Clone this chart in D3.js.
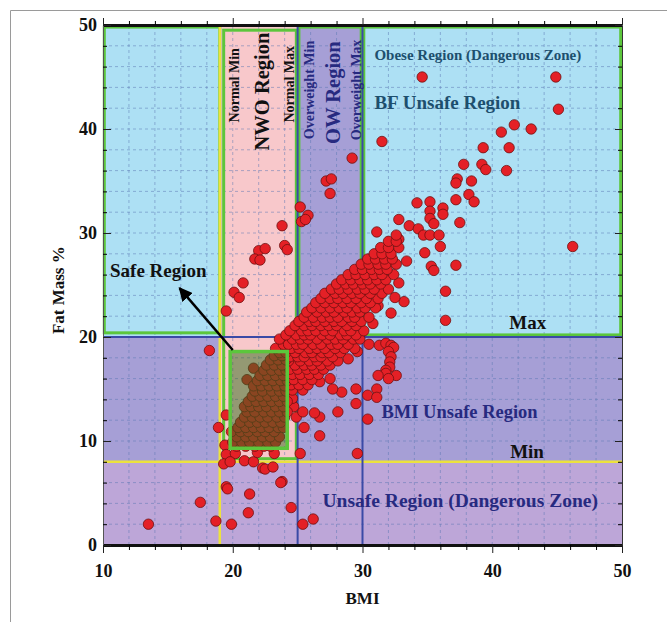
<!DOCTYPE html>
<html lang="en">
<head>
<meta charset="utf-8">
<title>BMI vs Fat Mass %</title>
<script src="https://cdn.jsdelivr.net/npm/d3@7"></script>
<style>
  body { margin: 0; background: #fff; }
  #chart text { font-family: "Liberation Serif", "Times New Roman", serif; font-weight: bold; }
</style>
</head>
<body>
<div id="chart"></div>
<script>
// axis ranges / ticks
var bmiDomain = [10, 50];
var fatDomain = [0, 50];
var majorX = [10, 20, 30, 40, 50];
var majorY = [0, 10, 20, 30, 40, 50];

// thresholds
var bmiCuts = [19, 25, 30];   // normal min, normal max / overweight min, overweight max
var fatCuts = [8, 20];        // min, max
var safeBox = [19.8, 24.2, 9.3, 18.6];   // bmi0, bmi1, fat0, fat1
var greenBoxes = [[10.1, 19.0, 20.4, 49.8], [19.3, 24.9, 8.3, 49.5], [25.1, 29.9, 20.2, 49.8], [30.1, 49.9, 20.2, 49.8]];

// scattered subjects [bmi, fat %]
var scatter = [
  [34.6,45.0],[44.9,45.0],[45.1,41.9],[40.7,39.7],[41.7,40.4],[43.0,40.0],[31.5,38.8],[39.3,38.2],[41.3,38.2],
  [29.2,37.2],[37.8,36.6],[39.2,36.6],[39.5,36.1],[41.1,36.0],[27.2,35.0],[27.6,35.2],[27.5,33.8],[37.3,35.2],
  [37.2,34.8],[38.4,35.0],[38.2,33.7],[37.2,33.2],[38.6,33.0],[34.2,32.9],[35.2,33.0],[36.2,32.4],[35.2,32.1],
  [36.2,31.8],[32.8,31.3],[35.2,31.4],[37.5,31.0],[33.6,30.7],[35.5,30.9],[34.3,30.4],[34.7,29.8],[35.2,29.8],
  [35.9,29.8],[46.2,28.7],[36.0,28.7],[32.8,29.4],[34.8,28.1],[37.2,26.9],[35.3,26.8],[35.5,26.4],[36.4,24.4],
  [36.4,21.6],[32.2,22.3],[33.2,23.4],[32.5,23.8],[32.8,25.2],[33.4,27.3],[31.1,30.1],
  [25.2,32.5],[25.8,31.7],[25.3,31.1],[25.6,31.3],[23.8,30.7],[24.0,28.8],[24.2,28.4],[22.0,28.3],[22.5,28.5],
  [21.7,27.5],[22.1,27.4],[20.8,25.2],[20.1,24.3],[20.5,23.8],[19.5,22.5],[18.2,18.7],[19.5,12.5],[18.9,11.3],
  [19.4,9.6],[19.5,8.7],[19.3,7.8],[20.2,8.8],[19.8,8.0],[20.9,8.1],[21.6,8.0],[22.3,7.4],[22.5,7.3],[23.1,7.5],
  [23.2,8.8],[21.9,8.9],[25.2,8.8],[29.6,8.8],[23.8,6.1],
  [13.5,2.0],[17.5,4.1],[18.7,2.3],[19.5,5.6],[19.6,5.4],[19.9,2.0],[21.3,4.9],[21.2,3.1],[23.7,6.0],[24.5,3.6],
  [25.4,2.0],[26.2,2.5],
  [30.5,19.3],[31.3,19.2],[31.8,19.4],[32.2,19.2],[32.4,19.0],[32.0,18.6],[32.2,18.1],[32.1,17.6],[32.1,17.1],
  [31.8,16.8],[31.8,16.5],[31.2,16.3],[32.6,16.3],[32.0,16.0],[31.1,15.0],[30.4,14.4],[31.1,14.2],[30.4,12.1],
  [29.5,15.0],[29.5,13.6],[28.4,14.7],[27.7,15.0],[27.5,16.0],[26.7,15.7],[28.1,12.8],[26.7,12.3],[26.3,12.7],
  [26.7,10.5],[25.5,11.3],[24.7,13.3],[24.9,12.3],[24.6,14.1],[25.4,12.8],[21.1,15.9],[21.6,17.0],[28.9,17.9],
  [29.6,18.6],[30.8,21.3],[31.2,23.0]
];

// dense band: [fat %, bmi values on that row]
var cloudRows = [
  [9.5,  [20.3, 21.0, 21.7, 22.4, 22.9]],
  [9.9,  [20.0, 20.7, 21.3, 22.0, 22.7, 23.3]],
  [10.4, [20.3, 21.0, 21.6, 22.3, 22.9, 23.6]],
  [10.9, [19.9, 20.6, 21.2, 21.9, 22.5, 23.2]],
  [11.3, [20.4, 21.0, 21.6, 22.2, 22.8, 23.5, 23.9]],
  [11.8, [20.6, 21.3, 21.9, 22.5, 23.1, 23.7]],
  [12.3, [20.9, 21.5, 22.1, 22.7, 23.4, 24.0]],
  [12.8, [21.1, 21.7, 22.4, 23.0, 23.6, 24.2]],
  [13.3, [20.9, 21.4, 22.0, 22.6, 23.3, 23.9]],
  [13.8, [21.2, 21.8, 22.4, 23.0, 23.6, 24.2]],
  [14.3, [21.5, 22.1, 22.7, 23.3, 23.9]],
  [14.8, [21.7, 22.3, 23.0, 23.6, 24.1]],
  [14.9, [24.6, 25.4]],
  [15.3, [21.6, 22.2, 22.8, 23.4, 24.0]],
  [15.4, [24.5, 25.1, 25.8]],
  [15.8, [21.9, 22.5, 23.1, 23.7, 24.2]],
  [15.9, [24.7, 25.4, 26.1]],
  [16.3, [22.1, 22.7, 23.3, 23.9]],
  [16.4, [24.6, 25.2, 25.9, 26.6]],
  [16.8, [22.4, 23.0, 23.6, 24.1]],
  [16.9, [24.4, 25.0, 25.7, 26.3, 27.0]],
  [17.3, [22.6, 23.2, 23.8, 24.8, 25.5, 26.1, 26.8, 27.5]],
  [17.7, [24.3, 25.2, 25.9, 26.5, 27.3, 28.1]],
  [17.8, [22.9, 23.5, 24.1]],
  [18.1, [24.4, 25.0, 25.5, 26.3, 26.8, 27.7]],
  [18.2, [23.2, 23.8]],
  [18.5, [23.6, 24.1, 24.8, 25.6, 26.1, 26.9, 27.4, 28.3]],
  [18.9, [23.3, 24.5, 25.1, 25.9, 26.5, 27.1, 27.9, 28.6, 29.4]],
  [19.3, [23.9, 24.3, 24.9, 25.4, 26.2, 26.8, 27.6, 28.1, 28.9]],
  [19.8, [23.6, 24.6, 25.2, 25.8, 26.5, 27.3, 27.9, 28.5, 29.3, 29.8]],
  [20.2, [24.1, 24.9, 25.5, 26.0, 26.9, 27.5, 28.3, 28.8, 29.5]],
  [20.6, [24.4, 25.3, 25.8, 26.4, 27.1, 27.7, 28.6, 29.1, 30.1]],
  [21.1, [24.8, 25.5, 26.1, 26.8, 27.4, 28.0, 28.8, 29.5]],
  [21.5, [25.1, 25.9, 26.4, 27.1, 27.8, 28.4, 29.2, 29.9]],
  [21.9, [25.5, 26.2, 26.9, 27.5, 28.1, 28.9, 29.4, 30.5]],
  [22.4, [25.7, 26.5, 27.2, 27.8, 28.6, 29.2, 29.8]],
  [22.8, [26.1, 26.8, 27.5, 28.2, 28.8, 29.6, 30.2, 31.0]],
  [23.3, [26.4, 27.1, 27.8, 28.5, 29.1, 29.9, 30.6]],
  [23.7, [26.8, 27.5, 28.1, 28.8, 29.5, 30.3, 31.2]],
  [24.2, [27.1, 27.9, 28.5, 29.2, 29.8, 30.6, 31.5]],
  [24.6, [27.6, 28.2, 28.9, 29.6, 30.2, 30.9, 32.0]],
  [25.1, [28.0, 28.7, 29.3, 30.0, 30.6, 31.4]],
  [25.5, [28.4, 29.1, 29.8, 30.4, 31.1, 31.8]],
  [26.0, [28.9, 29.5, 30.2, 30.9, 31.5, 32.4]],
  [26.5, [29.4, 30.0, 30.7, 31.3, 31.9]],
  [27.0, [29.9, 30.5, 31.2, 31.8, 32.6]],
  [27.5, [30.4, 31.0, 31.7, 32.3]],
  [28.0, [30.9, 31.5, 32.2]],
  [28.6, [31.4, 32.0, 32.8]],
  [29.2, [32.0, 32.6]],
  [29.8, [32.6]]
];

// annotations: [text, bmi, fat, size, colour, rotated]
var labels = [
  ["Normal Min", 20.08, 44.2, 14, "#111", true],
  ["NWO Region", 22.23, 43.6, 20.5, "#111", true],
  ["Normal Max", 24.38, 44.3, 14, "#111", true],
  ["Overweight Min", 25.92, 43.75, 14, "#272a80", true],
  ["OW Region", 27.69, 43.5, 20.5, "#272a80", true],
  ["Overweight Max", 29.54, 43.75, 14, "#272a80", true],
  ["Obese Region (Dangerous Zone)", 30.92, 46.63, 15, "#1d4f6e", false],
  ["BF Unsafe Region", 30.92, 41.92, 19, "#1d4f6e", false],
  ["Safe Region", 10.54, 25.77, 19, "#111", false],
  ["Max", 41.31, 20.77, 19, "#111", false],
  ["BMI Unsafe Region", 31.46, 12.21, 18.5, "#272a80", false],
  ["Min", 41.38, 8.37, 19, "#111", false],
  ["Unsafe Region (Dangerous Zone)", 26.92, 3.65, 19.5, "#272a80", false]
];
var arrowFrom = [20.0, 18.75], arrowTo = [15.9, 24.7];

var points = scatter.slice();
cloudRows.forEach(function(r) {
  r[1].forEach(function(b) { points.push([b, r[0]]); });
});

var W = 667, H = 622;
var svg = d3.select("#chart").append("svg").attr("width", W).attr("height", H);

// outer frame
svg.append("path").attr("d", "M10.5," + H + "V10.5H" + W)
   .attr("fill", "none").attr("stroke", "#9a9a9a").attr("stroke-width", 1);

var x = d3.scaleLinear().domain(bmiDomain).range([103, 622]);
var y = d3.scaleLinear().domain(fatDomain).range([545, 25]);

function rect(b0, b1, f0, f1, fill) {
  return svg.append("rect")
    .attr("x", x(b0)).attr("y", y(f1))
    .attr("width", x(b1) - x(b0)).attr("height", y(f0) - y(f1))
    .attr("fill", fill);
}

// region fills
rect(10, 50, fatCuts[1], 50, "#ade0f4");
rect(10, 50, fatCuts[0], fatCuts[1], "#a69fd6");
rect(10, 50, 0, fatCuts[0], "#bda6d8");
rect(bmiCuts[0], bmiCuts[1], fatCuts[0], 50, "#f8c8cb");
rect(bmiCuts[1], bmiCuts[2], fatCuts[1], 50, "#a69fd6");

// dashed grid every 2 units
var grid = svg.append("g").attr("stroke", "#5b78b4").attr("stroke-opacity", 0.5)
  .attr("stroke-dasharray", "3,3").attr("stroke-width", 1);
grid.selectAll(".gx").data(d3.range(12, 50, 2)).enter().append("line")
  .attr("x1", function(d) { return x(d); }).attr("x2", function(d) { return x(d); })
  .attr("y1", y(0)).attr("y2", y(50));
grid.selectAll(".gy").data(d3.range(2, 50, 2)).enter().append("line")
  .attr("y1", function(d) { return y(d); }).attr("y2", function(d) { return y(d); })
  .attr("x1", x(10)).attr("x2", x(50));

// green outlines
svg.selectAll(".gbox").data(greenBoxes).enter().append("rect")
  .attr("x", function(d) { return x(d[0]); }).attr("y", function(d) { return y(d[3]); })
  .attr("width", function(d) { return x(d[1]) - x(d[0]); })
  .attr("height", function(d) { return y(d[2]) - y(d[3]); })
  .attr("fill", "none").attr("stroke", "#5cc63c").attr("stroke-width", 3);

// threshold lines
svg.append("line").attr("x1", x(bmiCuts[0])).attr("x2", x(bmiCuts[0])).attr("y1", y(0)).attr("y2", y(50))
  .attr("stroke", "#ece23e").attr("stroke-width", 2.5);
svg.append("line").attr("x1", x(10)).attr("x2", x(50)).attr("y1", y(fatCuts[0])).attr("y2", y(fatCuts[0]))
  .attr("stroke", "#ece23e").attr("stroke-width", 2.5);
[bmiCuts[1], bmiCuts[2]].forEach(function(b) {
  svg.append("line").attr("x1", x(b)).attr("x2", x(b)).attr("y1", y(0)).attr("y2", y(50))
    .attr("stroke", "#3a4aa6").attr("stroke-width", 2);
});
svg.append("line").attr("x1", x(10)).attr("x2", x(50)).attr("y1", y(fatCuts[1])).attr("y2", y(fatCuts[1]))
  .attr("stroke", "#3a4aa6").attr("stroke-width", 2);

// subjects
svg.append("g").selectAll("circle").data(points).enter().append("circle")
  .attr("cx", function(d) { return x(d[0]); })
  .attr("cy", function(d) { return y(d[1]); })
  .attr("r", 5.2)
  .attr("fill", "#e42026").attr("stroke", "#6e1010").attr("stroke-width", 0.8);

// safe region box (over the points)
rect(safeBox[0], safeBox[1], safeBox[2], safeBox[3], "#2f6a1c").attr("fill-opacity", 0.5)
  .attr("stroke", "#5cc63c").attr("stroke-width", 3.5).attr("stroke-opacity", 1);

// arrow
svg.append("defs").append("marker").attr("id", "head")
  .attr("viewBox", "0 0 10 10").attr("refX", 9).attr("refY", 5)
  .attr("markerWidth", 5.5).attr("markerHeight", 5.5).attr("orient", "auto")
  .append("path").attr("d", "M0,0L10,5L0,10z").attr("fill", "#000");
svg.append("line")
  .attr("x1", x(arrowFrom[0])).attr("y1", y(arrowFrom[1]))
  .attr("x2", x(arrowTo[0])).attr("y2", y(arrowTo[1]))
  .attr("stroke", "#000").attr("stroke-width", 2.5).attr("marker-end", "url(#head)");

// annotations
labels.forEach(function(l) {
  var t = svg.append("text").text(l[0]).attr("fill", l[4]).style("font-size", l[3] + "px");
  if (l[5]) {
    t.attr("transform", "translate(" + x(l[1]) + "," + y(l[2]) + ") rotate(-90)")
     .attr("text-anchor", "middle").attr("dy", "0.35em");
  } else {
    t.attr("x", x(l[1])).attr("y", y(l[2]));
  }
});

// axes
var minorX = d3.range(10, 51, 2).filter(function(d) { return majorX.indexOf(d) < 0; });
var minorY = d3.range(0, 51, 2).filter(function(d) { return majorY.indexOf(d) < 0; });

function styleAxis(g, w) {
  g.select(".domain").attr("stroke", "#111").attr("stroke-width", w);
  g.selectAll(".tick line").attr("stroke", "#222");
  g.selectAll("text").style("font-size", "18px").attr("fill", "#111");
}

var gb = svg.append("g").attr("transform", "translate(0," + y(0) + ")")
  .call(d3.axisBottom(x).tickValues(majorX).tickSize(8).tickPadding(11).tickSizeOuter(0));
styleAxis(gb, 3);
svg.append("g").attr("transform", "translate(0," + y(0) + ")")
  .call(d3.axisBottom(x).tickValues(minorX).tickSize(5).tickFormat("").tickSizeOuter(0))
  .select(".domain").remove();

var gt = svg.append("g").attr("transform", "translate(0," + y(50) + ")")
  .call(d3.axisTop(x).tickValues(majorX).tickSize(7).tickFormat("").tickSizeOuter(0));
styleAxis(gt, 3);
svg.append("g").attr("transform", "translate(0," + y(50) + ")")
  .call(d3.axisTop(x).tickValues(minorX).tickSize(4).tickFormat("").tickSizeOuter(0))
  .select(".domain").remove();

var gl = svg.append("g").attr("transform", "translate(" + x(10) + ",0)")
  .call(d3.axisLeft(y).tickValues(majorY).tickSize(-8).tickPadding(6).tickSizeOuter(0));
styleAxis(gl, 1);
gl.select(".domain").attr("stroke", "#555");
svg.append("g").attr("transform", "translate(" + x(10) + ",0)")
  .call(d3.axisLeft(y).tickValues(minorY).tickSize(-4).tickFormat("").tickSizeOuter(0))
  .select(".domain").remove();

var gr = svg.append("g").attr("transform", "translate(" + x(50) + ",0)")
  .call(d3.axisRight(y).tickValues(majorY).tickSize(-7).tickFormat("").tickSizeOuter(0));
styleAxis(gr, 1);
gr.select(".domain").attr("stroke", "#333");
svg.append("g").attr("transform", "translate(" + x(50) + ",0)")
  .call(d3.axisRight(y).tickValues(minorY).tickSize(-4).tickFormat("").tickSizeOuter(0))
  .select(".domain").remove();

svg.selectAll(".tick text").style("font-family", "'Liberation Serif', 'Times New Roman', serif")
  .style("font-weight", "bold");

// axis titles
svg.append("text").attr("x", x(30)).attr("y", 604).attr("text-anchor", "middle")
  .style("font-size", "17px").attr("fill", "#111").text("BMI");
svg.append("text").attr("transform", "translate(58," + y(24.5) + ") rotate(-90)")
  .attr("text-anchor", "middle").attr("dy", "0.35em")
  .style("font-size", "17px").attr("fill", "#111").text("Fat Mass %");
</script>
</body>
</html>
